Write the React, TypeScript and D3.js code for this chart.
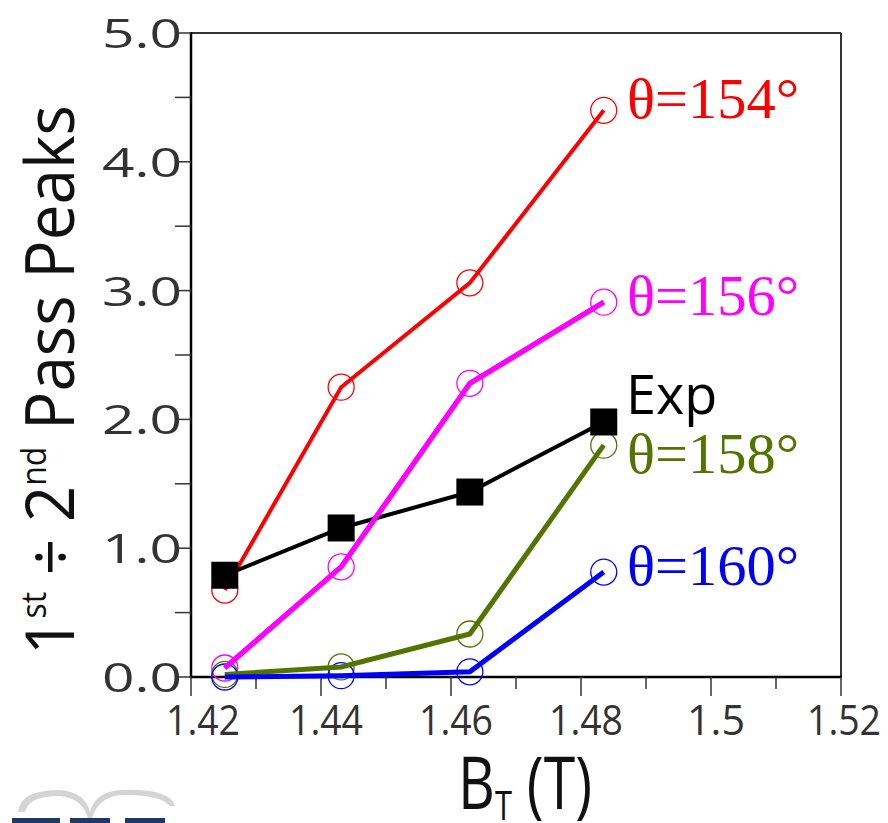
import React from "react";
import * as d3 from "d3";

const bField = [1.4252, 1.4431, 1.4629, 1.4835];
const theta154 = [0.675, 2.25, 3.06, 4.4];
const theta156 = [0.07, 0.855, 2.28, 2.91];
const theta158 = [0.02, 0.078, 0.334, 1.8];
const theta160 = [0.0, 0.01, 0.04, 0.815];
const expData = [0.79, 1.157, 1.436, 1.98];

const xTickMajor = [1.42, 1.44, 1.46, 1.48, 1.5, 1.52];
const xTickLabels = ["1.42", "1.44", "1.46", "1.48", "1.5", "1.52"];
const xTickMinor = [1.43, 1.45, 1.47, 1.49, 1.51];
const yTicks = [0, 1, 2, 3, 4, 5];
const yTickLabels = ["0.0", "1.0", "2.0", "3.0", "4.0", "5.0"];
const yTickMinor = [0.5, 1.5, 2.5, 3.5, 4.5];

const seriesNames = ["θ=154°", "θ=156°", "θ=158°", "θ=160°"];
const seriesColors = ["#ff0000", "#ff00ff", "#527400", "#0000ff"];

const W = 888;
const H = 823;
const L = 191;
const R = 841;
const T = 33;
const B = 677;

export default function App() {
  const x = d3.scaleLinear().domain([1.42, 1.52]).range([L, R]);
  const y = d3.scaleLinear().domain([0, 5]).range([B, T]);
  const line = d3
    .line<number>()
    .x((_, i) => x(bField[i]))
    .y((d) => y(d));

  const sims = [theta154, theta156, theta158, theta160];
  const widths = [4, 5, 5, 5];
  const labelY = [118, 315, 473, 585];
  const sans = "'Open Sans', 'DejaVu Sans', sans-serif";
  const serif = "'Liberation Serif', 'DejaVu Serif', serif";

  return (
    <svg
      width={W}
      height={H}
      style={{ position: "absolute", left: 0, top: 0, background: "#fff" }}
    >
      <rect x={0} y={0} width={W} height={H} fill="#fff" />
      {/* logo fragment */}
      <path
        d="M 18 812 Q 20 790 60 790 Q 85 792 90 812 Q 95 792 120 790 Q 170 788 175 806 L 170 806 Q 160 794 120 795 Q 98 798 92 818 L 88 818 Q 82 798 60 796 Q 28 796 25 812 Z"
        fill="#d4d4d4"
      />
      <rect x={12} y={818} width={48} height={5} fill="#1c3a66" />
      <rect x={70} y={818} width={40} height={5} fill="#1c3a66" />
      <rect x={125} y={818} width={40} height={5} fill="#1c3a66" />

      {/* frame */}
      <line x1={L} y1={T} x2={R} y2={T} stroke="#333" strokeWidth={2} />
      <line x1={R} y1={T} x2={R} y2={B} stroke="#333" strokeWidth={2} />
      <line x1={L} y1={T - 1} x2={L} y2={B + 1} stroke="#000" strokeWidth={2.5} />
      <line x1={L - 1} y1={B} x2={R + 1} y2={B} stroke="#000" strokeWidth={2.5} />

      {/* y ticks */}
      {yTicks.map((v) => (
        <line key={"yt" + v} x1={L - 16} x2={L} y1={y(v)} y2={y(v)} stroke="#333" strokeWidth={1.5} />
      ))}
      {yTickMinor.map((v) => (
        <line key={"ym" + v} x1={L - 16} x2={L} y1={y(v)} y2={y(v)} stroke="#333" strokeWidth={1.5} />
      ))}
      {yTicks.map((v, i) => (
        <text
          key={"yl" + v}
          x={L - 9}
          y={y(v) + 15}
          textAnchor="end"
          fontFamily={sans}
          fontSize={41}
          fill="#333"
          textLength={80}
          lengthAdjust="spacingAndGlyphs"
        >
          {yTickLabels[i]}
        </text>
      ))}

      {/* x ticks */}
      {xTickMajor.map((v) => (
        <line key={"xt" + v} x1={x(v)} x2={x(v)} y1={B} y2={B + 19} stroke="#333" strokeWidth={1.5} />
      ))}
      {xTickMinor.map((v) => (
        <line key={"xm" + v} x1={x(v)} x2={x(v)} y1={B} y2={B + 12} stroke="#333" strokeWidth={1.5} />
      ))}
      {xTickMajor.map((v, i) => (
        <text
          key={"xl" + v}
          x={x(v) + (i === 0 ? 12 : i === 5 ? 3 : 5)}
          y={735}
          textAnchor="middle"
          fontFamily={sans}
          fontSize={42}
          fill="#333"
          textLength={i === 4 ? 58 : 74}
          lengthAdjust="spacingAndGlyphs"
        >
          {xTickLabels[i]}
        </text>
      ))}

      {/* axis titles */}
      <text
        x={458}
        y={809}
        fontFamily={sans}
        fontSize={74}
        fill="#111"
        textLength={134}
        lengthAdjust="spacingAndGlyphs"
      >
        B
        <tspan fontSize={40} dy={11}>T</tspan>
        <tspan dy={-11}> (T)</tspan>
      </text>
      <g transform="translate(74,380) rotate(-90)">
        <text
          x={0}
          y={0}
          textAnchor="middle"
          fontFamily={sans}
          fontSize={68}
          fill="#111"
          textLength={550}
          lengthAdjust="spacingAndGlyphs"
        >
          1<tspan fontSize={34} dy={-28}>st</tspan>
          <tspan dy={28}> ÷ 2</tspan>
          <tspan fontSize={34} dy={-28}>nd</tspan>
          <tspan dy={28}> Pass Peaks</tspan>
        </text>
      </g>

      {/* simulation circles */}
      {sims.map((s, si) =>
        s.map((v, i) => (
          <circle
            key={"c" + si + "-" + i}
            cx={x(bField[i])}
            cy={y(v)}
            r={13}
            fill="none"
            stroke={seriesColors[si]}
            strokeWidth={1.3}
          />
        ))
      )}
      {/* simulation lines */}
      {[2, 3, 0, 1].map((si) => (
        <path
          key={"l" + si}
          d={line(sims[si]) || ""}
          fill="none"
          stroke={seriesColors[si]}
          strokeWidth={widths[si]}
          strokeLinejoin="miter"
        />
      ))}
      {/* experiment */}
      <path d={line(expData) || ""} fill="none" stroke="#000" strokeWidth={4} />
      {expData.map((v, i) => (
        <rect
          key={"e" + i}
          x={x(bField[i]) - 13.5}
          y={y(v) - 13.5}
          width={27}
          height={27}
          fill="#000"
        />
      ))}
      {/* magenta line sits over black */}
      <path d={line(theta156) || ""} fill="none" stroke="#ff00ff" strokeWidth={5} />

      {/* series labels */}
      {seriesNames.map((n, i) => (
        <text
          key={"n" + i}
          x={627}
          y={labelY[i]}
          fontFamily={serif}
          fontSize={58}
          fill={seriesColors[i]}
          textLength={172}
          lengthAdjust="spacingAndGlyphs"
        >
          {n}
        </text>
      ))}
      <text x={626} y={414} fontFamily={sans} fontSize={54} fill="#000">
        Exp
      </text>
    </svg>
  );
}
